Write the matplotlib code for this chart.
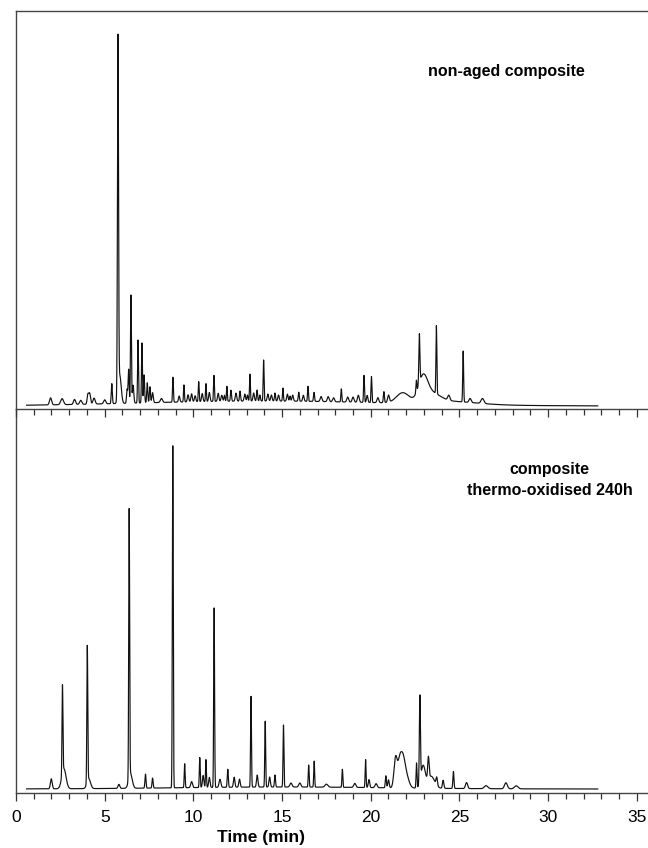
import numpy as np
import matplotlib
matplotlib.use("Agg")
import matplotlib.pyplot as plt
from matplotlib.ticker import MultipleLocator

plt.rcParams["font.family"] = ["Liberation Sans", "DejaVu Sans"]

# Peak tables: retention time (min), height (a.u.), width sigma (min)
top_rt = [1.95, 2.6, 3.3, 3.65, 4.05, 4.15, 4.4, 5.0, 5.4, 5.75, 5.85, 6.26, 6.35, 6.48, 6.6,
          6.88, 7.1, 7.22, 7.4, 7.55, 7.7, 8.2, 8.85, 9.2, 9.47, 9.7, 9.9, 10.1, 10.3, 10.5,
          10.71, 10.9, 11.16, 11.4, 11.6, 11.75, 11.89, 12.12, 12.4, 12.63, 12.9, 13.05, 13.19,
          13.4, 13.59, 13.75, 13.96, 14.2, 14.4, 14.6, 14.8, 15.05, 15.3, 15.45, 15.6, 15.94,
          16.2, 16.46, 16.8, 17.2, 17.6, 17.9, 18.34, 18.7, 19.0, 19.3, 19.62, 19.8, 20.04,
          20.4, 20.74, 21.0, 21.8, 22.57, 22.74, 22.95, 23.4, 23.7, 24.4, 25.21, 25.6, 26.3,
          14.0, 24.5]
top_h = [7, 6, 5, 4, 9, 11, 6, 4, 20, 357, 28, 14, 34, 108, 18,
         63, 60, 28, 20, 16, 10, 4, 25, 6, 17, 7, 8, 6, 20, 8,
         18, 9, 26, 8, 6, 6, 15, 11, 8, 10, 7, 6, 27,
         8, 11, 6, 41, 7, 6, 8, 6, 13, 7, 5, 6, 9,
         6, 15, 9, 5, 5, 4, 13, 5, 5, 7, 27, 7, 26,
         5, 11, 7, 10, 12, 49, 22, 9, 68, 5, 51, 4, 5,
         5, 3]
top_w = [0.06, 0.08, 0.06, 0.06, 0.04, 0.05, 0.06, 0.06, 0.03, 0.03, 0.08, 0.03, 0.03, 0.025, 0.04,
         0.025, 0.025, 0.03, 0.03, 0.03, 0.04, 0.06, 0.025, 0.04, 0.025, 0.04, 0.04, 0.04, 0.025, 0.04,
         0.025, 0.04, 0.025, 0.04, 0.04, 0.03, 0.025, 0.03, 0.04, 0.03, 0.04, 0.03, 0.025,
         0.04, 0.03, 0.03, 0.025, 0.04, 0.04, 0.03, 0.04, 0.025, 0.04, 0.03, 0.04, 0.03,
         0.04, 0.025, 0.03, 0.05, 0.05, 0.05, 0.025, 0.05, 0.05, 0.05, 0.025, 0.04, 0.025,
         0.05, 0.03, 0.05, 0.35, 0.025, 0.03, 0.25, 0.5, 0.025, 0.06, 0.025, 0.06, 0.08,
         7.0, 1.5]

bot_rt = [1.99, 2.62, 2.7, 4.02, 4.1, 5.8, 6.38, 6.45, 7.3, 7.7, 8.84, 9.51, 9.9, 10.36, 10.55,
          10.71, 10.9, 11.17, 11.5, 11.94, 12.3, 12.6, 13.25, 13.6, 14.05, 14.3, 14.6, 15.08,
          15.5, 16.0, 16.5, 16.81, 17.5, 18.4, 19.1, 19.71, 19.9, 20.3, 20.85, 21.0, 21.4, 21.62,
          21.8, 22.0, 22.58, 22.77, 22.95, 23.25, 23.4, 23.72, 24.08, 24.66, 25.4, 26.5, 27.62,
          28.2, 15.0]
bot_h = [10, 88, 20, 136, 10, 4, 268, 15, 14, 10, 342, 24, 6, 30, 12,
         28, 10, 180, 8, 18, 10, 8, 91, 12, 66, 10, 12, 62,
         4, 4, 22, 26, 3, 18, 4, 28, 8, 4, 12, 8, 30, 22,
         26, 12, 25, 86, 22, 22, 12, 8, 8, 17, 6, 3, 6,
         3, 2]
bot_w = [0.05, 0.025, 0.12, 0.025, 0.1, 0.05, 0.025, 0.1, 0.03, 0.03, 0.025, 0.025, 0.05, 0.025, 0.04,
         0.025, 0.04, 0.025, 0.05, 0.03, 0.04, 0.04, 0.025, 0.04, 0.025, 0.04, 0.03, 0.025,
         0.06, 0.06, 0.025, 0.025, 0.08, 0.025, 0.06, 0.025, 0.04, 0.06, 0.03, 0.04, 0.09, 0.1,
         0.12, 0.15, 0.025, 0.03, 0.12, 0.04, 0.2, 0.04, 0.04, 0.03, 0.06, 0.1, 0.08,
         0.1, 6.0]

t_start, t_end = 0.6, 32.8


def trace(rt, h, w):
    t = np.arange(t_start, t_end, 0.004)
    y = np.zeros_like(t)
    for c, a, s in zip(rt, h, w):
        y += a * np.exp(-0.5 * ((t - c) / s) ** 2)
    return t, y


fig = plt.figure(figsize=(6.48, 8.48), dpi=100)
ax1 = fig.add_axes([16 / 648, 1 - 409 / 848, 1 - 16 / 648, 398 / 848])
ax2 = fig.add_axes([16 / 648, 1 - 793 / 848, 1 - 16 / 648, 384 / 848])
# keep the upper panel's downward ticks on top of the lower panel
ax1.set_zorder(3)
ax1.patch.set_alpha(0)

t1, y1 = trace(top_rt, top_h, top_w)
t2, y2 = trace(bot_rt, bot_h, bot_w)
ax1.plot(t1, y1, color="#111111", lw=0.85)
ax2.plot(t2, y2, color="#111111", lw=0.85)

ax1.set_ylim(-3, 395)
ax2.set_ylim(-4, 380)

for ax in (ax1, ax2):
    ax.set_xlim(0, 35.63)
    ax.xaxis.set_major_locator(MultipleLocator(5))
    ax.xaxis.set_minor_locator(MultipleLocator(1))
    ax.tick_params(axis="x", which="major", direction="out", length=6, width=0.9, color="#333333",
                   labelsize=12.5, pad=6)
    ax.tick_params(axis="x", which="minor", direction="out", length=4, width=0.9, color="#333333")
    ax.set_yticks([])
    ax.spines["right"].set_visible(False)
    for sp in ("left", "top", "bottom"):
        ax.spines[sp].set_color("#444444")
        ax.spines[sp].set_linewidth(1.0)

ax1.tick_params(axis="x", labelbottom=False)
ax2.spines["top"].set_visible(False)
ax2.set_xlabel("Time (min)", fontsize=12.5, fontweight="bold")
ax2.xaxis.set_label_coords(0.388, -0.096)

ax1.text(0.776, 0.847, "non-aged composite", transform=ax1.transAxes, ha="center", va="center",
         fontsize=11.5, fontweight="bold")
ax2.text(0.844, 0.815, "composite\nthermo-oxidised 240h", transform=ax2.transAxes, ha="center",
         va="center", fontsize=11.5, fontweight="bold", linespacing=1.55)

fig.savefig("out.png", dpi=100)
